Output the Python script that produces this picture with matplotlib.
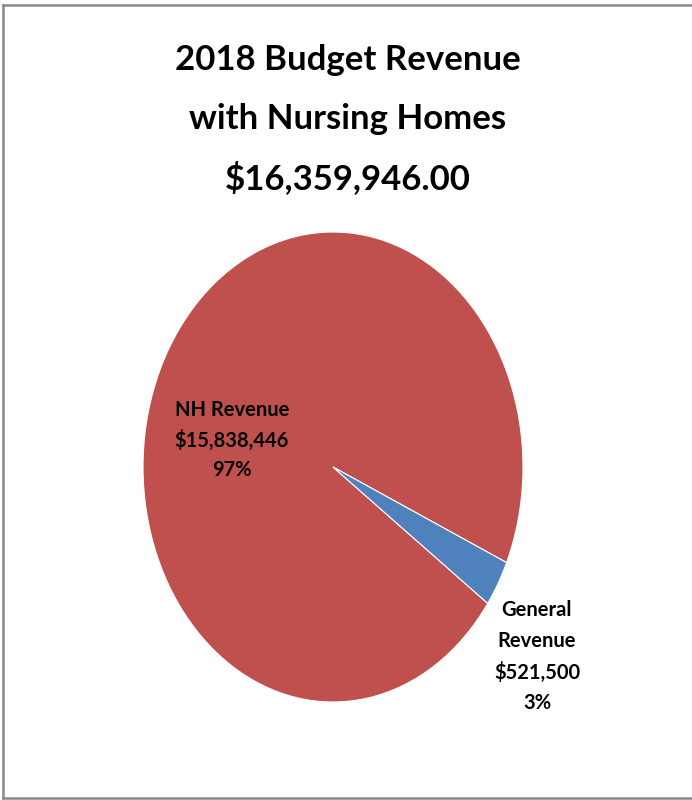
import matplotlib.pyplot as plt
from matplotlib.lines import Line2D

# Revenue split
labels = ['NH Revenue', 'General\nRevenue']
amounts = [15838446, 521500]
pct_text = ['97%', '3%']
colors = ['#C0504D', '#4F81BD']
title_lines = ['2018 Budget Revenue', 'with Nursing Homes', '$16,359,946.00']

W, H = 692, 800
plt.rcParams['font.family'] = ['Lato', 'DejaVu Sans']

fig = plt.figure(figsize=(W / 100, H / 100), dpi=100)


def px(x, y):
    # pixel coords (top-left origin) -> figure fraction
    return x / W, 1 - y / H


# pie drawn stretched into an ellipse
ax = fig.add_axes([143 / W, 98 / H, 380 / W, 470 / H])
ax.pie(amounts, colors=colors, startangle=-24, counterclock=True,
       wedgeprops=dict(edgecolor='white', linewidth=0.8))
ax.set_aspect('auto')
ax.set_xlim(-1, 1)
ax.set_ylim(-1, 1)
ax.axis('off')

# title
for i, line in enumerate(title_lines):
    fig.text(*px(348, 60 + 59 * i), line, ha='center', va='center',
             fontsize=25, fontweight='bold')

# data labels
nh_lines = [labels[0], f'${amounts[0]:,}', pct_text[0]]
for i, line in enumerate(nh_lines):
    fig.text(*px(232, 410 + 30 * i), line, ha='center', va='center',
             fontsize=14.5, fontweight='bold')
gen_lines = labels[1].split('\n') + [f'${amounts[1]:,}', pct_text[1]]
for i, line in enumerate(gen_lines):
    fig.text(*px(537, 610 + 31 * i), line, ha='center', va='center',
             fontsize=14.5, fontweight='bold')

# chart frame (right edge runs off the image)
frame = dict(color='#888888', linewidth=1.8, transform=fig.transFigure)
fig.add_artist(Line2D([3 / W, 1.01], [1 - 5 / H] * 2, **frame))
fig.add_artist(Line2D([3 / W] * 2, [1 - 5 / H, 1 - 798 / H], **frame))
fig.add_artist(Line2D([3 / W, 1.01], [1 - 798 / H] * 2, **frame))

fig.savefig('out.png', dpi=100, facecolor='white')
